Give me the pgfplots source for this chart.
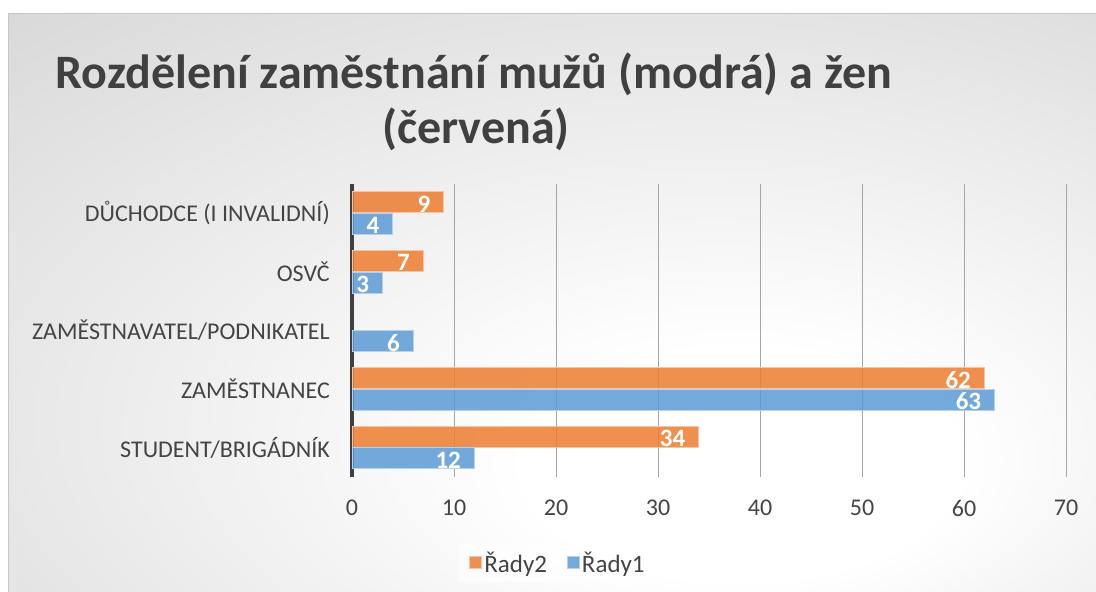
\documentclass[border=0pt]{standalone}
\usepackage{fontspec}
\setmainfont{Carlito}
\usepackage{pgfplots}
\pgfplotsset{compat=1.18}
\definecolor{bgout}{RGB}{192,192,192}
\definecolor{txt}{RGB}{68,68,68}
\definecolor{ttl}{RGB}{64,64,64}
\definecolor{gridc}{RGB}{166,166,166}
\definecolor{xlblue}{RGB}{91,155,213}
\definecolor{xlorange}{RGB}{237,125,49}
\pgfdeclareradialshading{chartbg}{\pgfpoint{10bp}{-16bp}}{color(0bp)=(white); color(10bp)=(white); color(66bp)=(bgout); color(80bp)=(bgout)}
\begin{document}
\begin{tikzpicture}
\useasboundingbox (0,0) rectangle (1096bp,592bp);
\fill[white] (0,0) rectangle (1096bp,592bp);
\path[shading=chartbg] (8bp,0) rectangle (1096bp,578bp);
\draw[color=gray!45, line width=1bp] (8bp,0) -- (8bp,578bp) -- (1096bp,578bp);
\node[anchor=base, font=\bfseries\fontsize{48bp}{56bp}\selectfont, text=ttl, inner sep=0] at (474bp,503bp) {Rozdělení zaměstnání mužů (modrá) a žen};
\node[anchor=base, font=\bfseries\fontsize{48bp}{56bp}\selectfont, text=ttl, inner sep=0] at (476bp,448bp) {(červená)};
\begin{axis}[
  at={(352bp,115bp)}, anchor=south west,
  scale only axis, width=714bp, height=293bp,
  xmin=0, xmax=70, ymin=-0.5, ymax=4.5,
  xtick={0,10,...,70}, ytick={0,1,2,3,4},
  yticklabels={STUDENT/BRIGÁDNÍK, ZAMĚSTNANEC, ZAMĚSTNAVATEL/PODNIKATEL, OSVČ, DŮCHODCE (I INVALIDNÍ)},
  /pgf/number format/assume math mode=true,
  axis x line*=bottom, axis y line*=left,
  x axis line style={draw=none},
  y axis line style={line width=3bp, color=ttl},
  major tick length=0pt,
  xmajorgrids, major grid style={color=gridc, line width=1bp},
  xticklabel style={font=\fontsize{24bp}{28bp}\selectfont, text=txt, anchor=north, inner sep=0pt, yshift=-23bp},
  yticklabel style={font=\fontsize{24bp}{28bp}\selectfont, text=txt, anchor=east, inner sep=0pt, xshift=-22bp},
  xbar, bar width=21bp,
  nodes near coords={\bfseries\fontsize{25bp}{28bp}\selectfont\pgfmathprintnumber[assume math mode=true]{\pgfplotspointmeta}},
  every node near coord/.append style={anchor=east, inner sep=0pt, xshift=-13bp, yshift=-1.5bp, text=white, text opacity=1},
  legend style={font=\fontsize{25bp}{28bp}\selectfont, text=txt, draw=none, fill=white, fill opacity=0.6, text opacity=1,
    at={(0.2885,-0.2935)}, anchor=center, legend columns=-1, inner xsep=10bp, inner ysep=6bp,
    /tikz/every even column/.append style={column sep=18bp}},
  legend cell align=left,
  legend image code/.code={\fill[#1] (0bp,-6bp) rectangle (12bp,6bp);},
]
\addplot[bar shift=10.8bp, fill=xlorange, fill opacity=0.85, draw=xlorange!45!white, line width=1bp]
  coordinates {(34,0) (62,1) (7,3) (9,4)};
\addlegendentry{Řady2}
\addplot[bar shift=-10.8bp, fill=xlblue, fill opacity=0.85, draw=xlblue!45!white, line width=1bp]
  coordinates {(12,0) (63,1) (6,2) (3,3) (4,4)};
\addlegendentry{Řady1}
\end{axis}
\end{tikzpicture}
\end{document}
